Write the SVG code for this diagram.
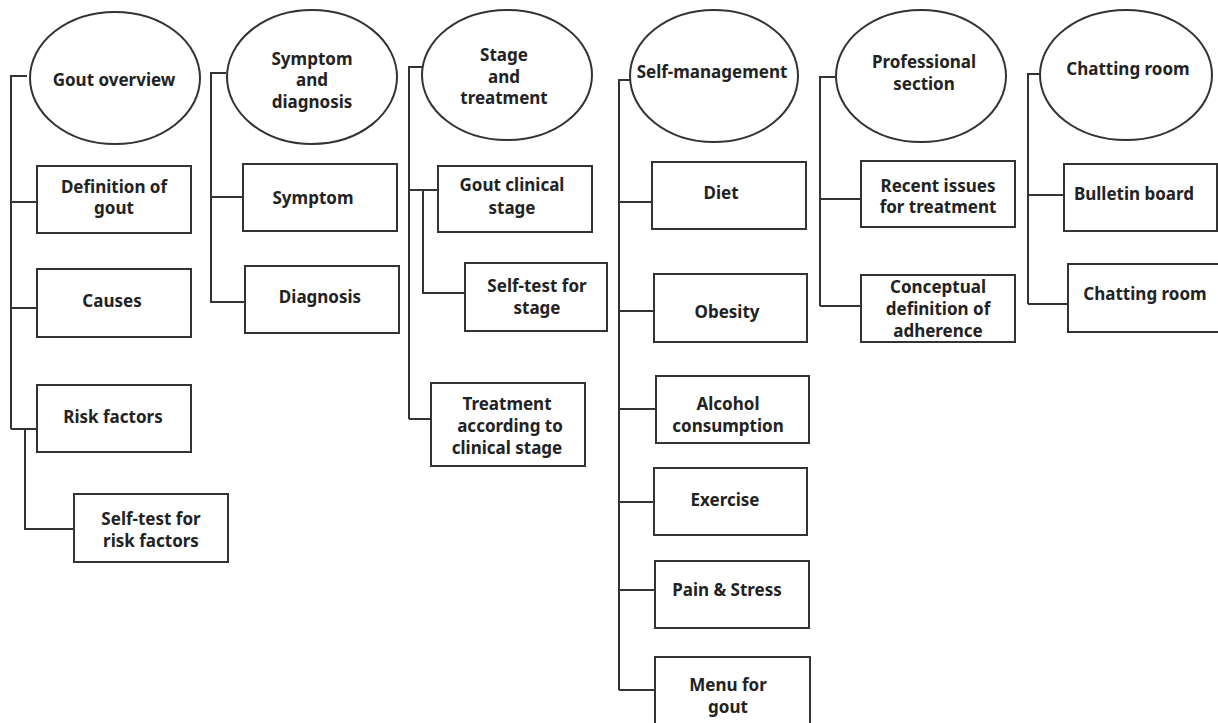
<svg xmlns="http://www.w3.org/2000/svg" width="1218" height="723" viewBox="0 0 1218 723">
<style>
.n{fill:#fff;stroke:#333;stroke-width:2}
.c{fill:none;stroke:#333;stroke-width:2}
text{font-family:"Noto Sans","Open Sans","Liberation Sans",sans-serif;font-weight:bold;font-size:17px;fill:#222;text-anchor:middle}
</style>
<rect width="1218" height="723" fill="#fff"/>
<g id="connectors">
<path class="c" d="M27 76H11V429M11 202H37M11 308H37M11 429H37M25 429V529H74"/>
<path class="c" d="M226 73H211V303M211 197H243M211 302H245"/>
<path class="c" d="M423 67H409V419M409 190H438M423 190V293H465M409 419H431"/>
<path class="c" d="M630 80H619V690M619 202H652M619 311H654M619 409H656M619 502H654M619 590H655M619 690H655"/>
<path class="c" d="M836 77H820V306M820 199H861M820 306H861"/>
<path class="c" d="M1040 74H1028V304M1028 195H1064M1028 304H1068"/>
</g>
<g id="gout-overview"><ellipse class="n" cx="115" cy="78" rx="85" ry="66"/><text x="114" y="86">Gout  overview</text></g>
<g id="definition"><rect class="n" x="37" y="166" width="154" height="67"/><text x="114" y="193">Definition of</text><text x="114" y="214">gout</text></g>
<g id="causes"><rect class="n" x="37" y="269" width="154" height="68"/><text x="112" y="307">Causes</text></g>
<g id="risk-factors"><rect class="n" x="37" y="385" width="154" height="67"/><text x="113" y="423">Risk factors</text></g>
<g id="selftest-risk"><rect class="n" x="74" y="494" width="154" height="68"/><text x="151" y="525">Self-test  for</text><text x="151" y="547">risk factors</text></g>

<g id="symptom-diagnosis"><ellipse class="n" cx="312" cy="77" rx="85" ry="67"/><text x="312" y="65">Symptom</text><text x="312" y="86">and</text><text x="312" y="108">diagnosis</text></g>
<g id="symptom"><rect class="n" x="243" y="164" width="154" height="67"/><text x="313" y="204">Symptom</text></g>
<g id="diagnosis"><rect class="n" x="245" y="266" width="154" height="67"/><text x="320" y="303">Diagnosis</text></g>

<g id="stage-treatment"><ellipse class="n" cx="507" cy="75" rx="85" ry="65"/><text x="504" y="61">Stage</text><text x="504" y="83">and</text><text x="504" y="104">treatment</text></g>
<g id="clinical-stage"><rect class="n" x="438" y="166" width="154" height="66"/><text x="512" y="191">Gout  clinical</text><text x="512" y="214">stage</text></g>
<g id="selftest-stage"><rect class="n" x="465" y="263" width="142" height="68"/><text x="537" y="292">Self-test  for</text><text x="537" y="314">stage</text></g>
<g id="treatment"><rect class="n" x="431" y="383" width="154" height="83"/><text x="507" y="410">Treatment</text><text x="510" y="432">according  to</text><text x="507" y="454">clinical  stage</text></g>

<g id="self-management"><ellipse class="n" cx="714" cy="76" rx="84" ry="66"/><text x="712" y="78">Self-management</text></g>
<g id="diet"><rect class="n" x="652" y="162" width="154" height="67"/><text x="721" y="199">Diet</text></g>
<g id="obesity"><rect class="n" x="654" y="274" width="153" height="68"/><text x="727" y="318">Obesity</text></g>
<g id="alcohol"><rect class="n" x="656" y="376" width="153" height="67"/><text x="728" y="410">Alcohol</text><text x="728" y="432">consumption</text></g>
<g id="exercise"><rect class="n" x="654" y="468" width="153" height="67"/><text x="725" y="506">Exercise</text></g>
<g id="pain-stress"><rect class="n" x="655" y="561" width="154" height="67"/><text x="727" y="596">Pain &amp; Stress</text></g>
<g id="menu"><rect class="n" x="655" y="657" width="155" height="70"/><text x="728" y="691">Menu for</text><text x="728" y="713">gout</text></g>

<g id="professional"><ellipse class="n" cx="921" cy="76" rx="85" ry="66"/><text x="924" y="68">Professional</text><text x="924" y="90">section</text></g>
<g id="recent-issues"><rect class="n" x="861" y="161" width="154" height="66"/><text x="938" y="192">Recent  issues</text><text x="938" y="213">for treatment</text></g>
<g id="conceptual"><rect class="n" x="861" y="275" width="154" height="67"/><text x="938" y="293">Conceptual</text><text x="938" y="315">definition of</text><text x="938" y="337">adherence</text></g>

<g id="chatting-room-main"><ellipse class="n" cx="1126" cy="75" rx="86" ry="65"/><text x="1128" y="75">Chatting  room</text></g>
<g id="bulletin"><rect class="n" x="1064" y="164" width="153" height="67"/><text x="1134" y="200">Bulletin board</text></g>
<g id="chatting-room"><rect class="n" x="1068" y="264" width="160" height="68"/><text x="1145" y="300">Chatting  room</text></g>
</svg>
